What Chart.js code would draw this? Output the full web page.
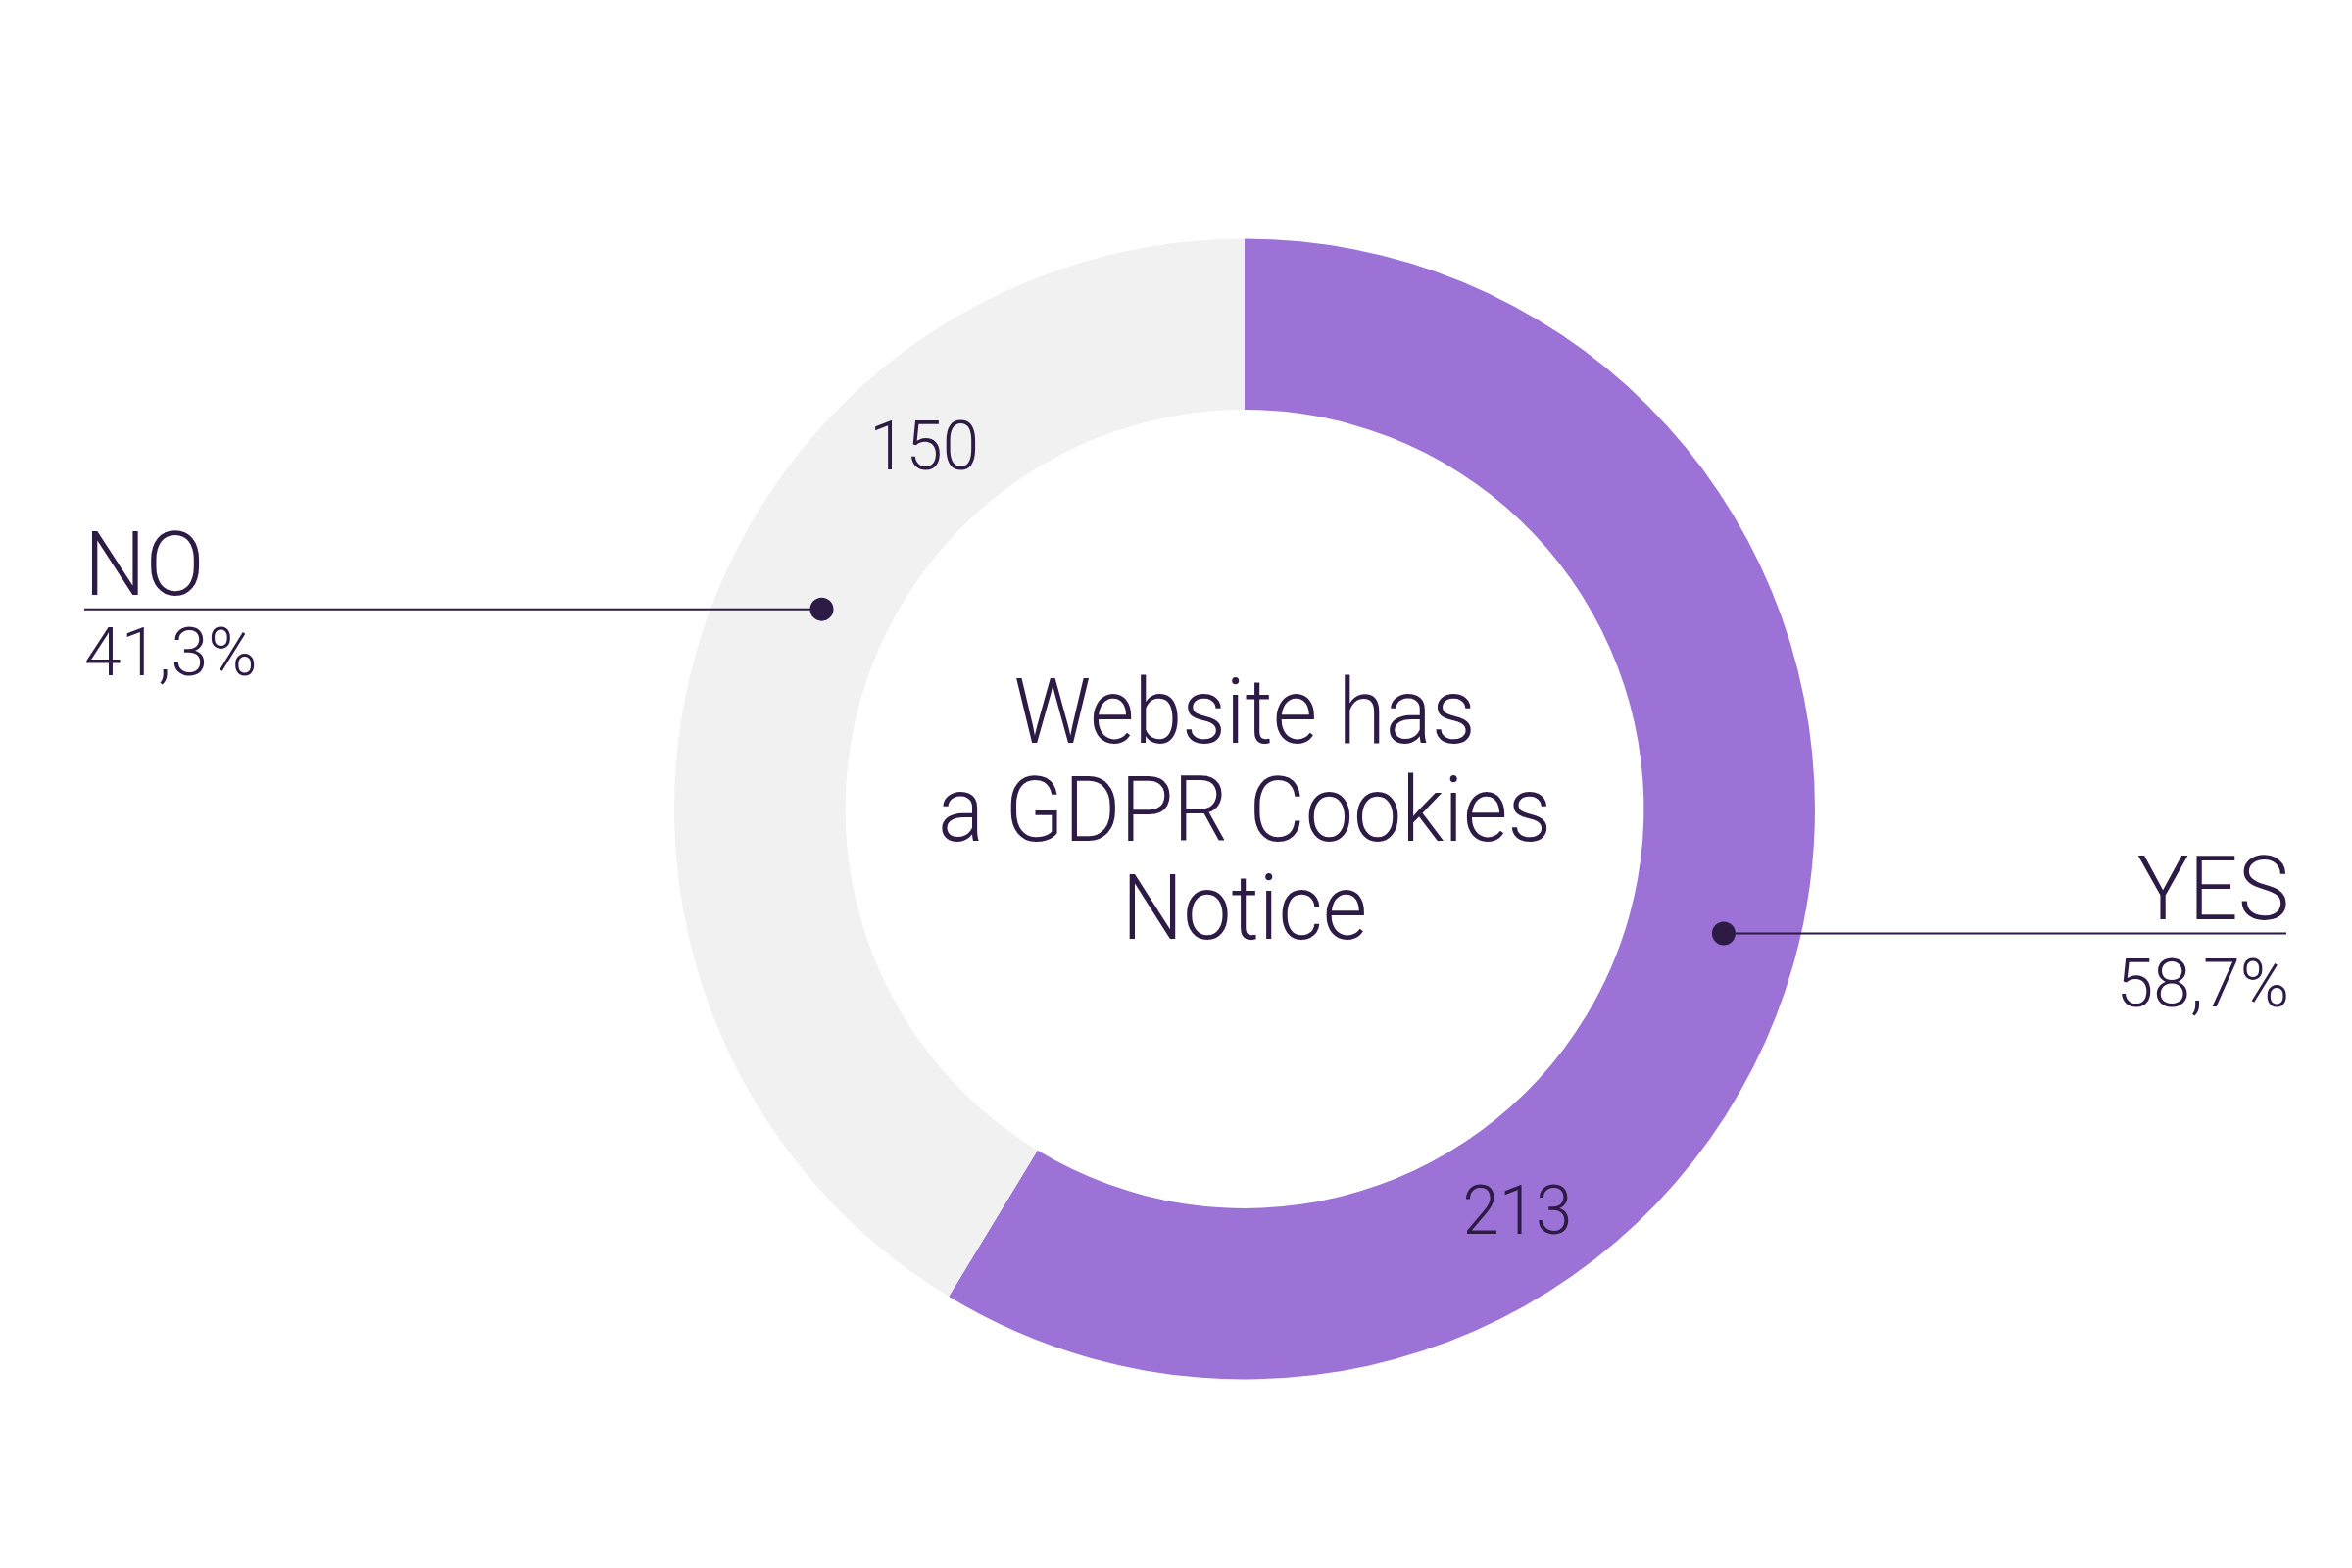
<!DOCTYPE html>
<html>
<head>
<meta charset="utf-8">
<title>Website has a GDPR Cookies Notice</title>
<script src="https://cdn.jsdelivr.net/npm/chart.js@4"></script>
<style>
    html, body { margin: 0; padding: 0; background: #ffffff; }
    #wrap { width: 2400px; height: 1600px; }
</style>
</head>
<body>
<div id="wrap"><canvas id="gdprChart" width="2400" height="1600"></canvas></div>
<script>
//Chart data
const answers = ['YES', 'NO'];
const answerCounts = [213, 150];
const answerPercents = ['58,7%', '41,3%'];
const centerTitle = ['Website has', 'a GDPR Cookies', 'Notice'];

//Colors + fonts
const textColor = '#2d1b45';
const sliceColors = ['#9c72d6', '#f1f1f1'];
const fontFamily = 'Roboto, "Noto Sans", sans-serif';


//Text is a bit narrower in the original, squeeze it horizontally
function squeezedText(ctx, text, x, y, sx) {
    ctx.save();
    ctx.translate(x, y);
    ctx.scale(sx, 1);
    ctx.fillText(text, 0, 0);
    ctx.restore();
}


//Draws the numbers on the ring, the center title and the side callouts
const doughnutText = {
    id: 'doughnutText',
    afterDraw(chart, args, opts) {
        const ctx = chart.ctx;
        const arcs = chart.getDatasetMeta(0).data;
        ctx.save();
        ctx.fillStyle = textColor;
        ctx.strokeStyle = textColor;
        ctx.textBaseline = 'alphabetic';

        arcs.forEach((arc, i) => {
            const p = arc.getProps(['x', 'y', 'startAngle', 'endAngle', 'innerRadius', 'outerRadius'], true);
            const ring = p.outerRadius - p.innerRadius;
            const midR = p.innerRadius + ring / 2;

            //count on the ring
            const a = p.startAngle + (p.endAngle - p.startAngle) * opts.countAt[i];
            ctx.font = '300 70px ' + fontFamily;
            ctx.textAlign = 'center';
            squeezedText(ctx, answerCounts[i], p.x + midR * Math.cos(a), p.y + midR * Math.sin(a) + 25, 0.96);

            //callout dot + line
            const d = p.startAngle + (p.endAngle - p.startAngle) * opts.dotAt[i];
            const dotR = p.innerRadius + ring * opts.dotRing[i];
            const dx = p.x + dotR * Math.cos(d);
            const dy = p.y + dotR * Math.sin(d);
            const right = Math.cos(d) > 0;
            const edge = right ? chart.width - opts.rightEdge : opts.leftEdge;
            ctx.lineWidth = 2;
            ctx.beginPath();
            ctx.moveTo(dx, dy);
            ctx.lineTo(edge, dy);
            ctx.stroke();
            ctx.beginPath();
            ctx.arc(dx, dy, 12, 0, Math.PI * 2);
            ctx.fill();

            //callout text
            const textX = edge + (right ? 3 : 0);
            ctx.textAlign = right ? 'right' : 'left';
            ctx.font = '300 90px ' + fontFamily;
            squeezedText(ctx, answers[i], textX, dy - 15, 0.98);
            ctx.font = '300 68px ' + fontFamily;
            squeezedText(ctx, answerPercents[i], textX, dy + opts.percentGap[i], 1);
        });

        //center title
        const c = arcs[0];
        ctx.font = '300 93px ' + fontFamily;
        ctx.textAlign = 'center';
        centerTitle.forEach((line, i) => {
            squeezedText(ctx, line, c.x, c.y + 32 + (i - 1) * 100, 0.945);
        });
        ctx.restore();
    }
};


//Doughnut Chart
const gdprChart = document.getElementById('gdprChart');
const chart = new Chart(gdprChart, {
    type: 'doughnut',
    data: {
        labels: answers,
        datasets: [{
            label: 'Website has a GDPR Cookies Notice',
            data: answerCounts,
            backgroundColor: sliceColors,
            borderWidth: 0,
            hoverOffset: 0,
        }]
    },
    options: {
        responsive: false,
        animation: false,
        cutout: '70%',
        layout: {
            padding: {left: 688, right: 548, top: 243, bottom: 192},
        },
        plugins: {
            legend: {display: false},
            tooltip: {enabled: false},
            doughnutText: {
                countAt: [0.69, 0.722],
                dotAt: [0.495, 0.565],
                dotRing: [0.56, 0.40],
                percentGap: [74, 67],
                leftEdge: 86,
                rightEdge: 67,
            },
        },
    },
    plugins: [doughnutText],
});
</script>
</body>
</html>
